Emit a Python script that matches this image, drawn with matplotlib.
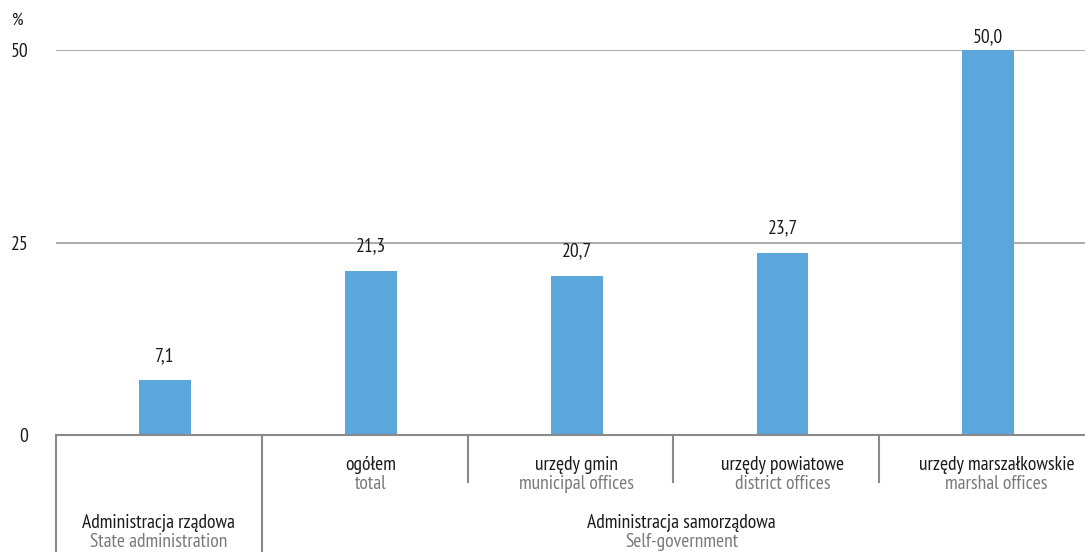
import matplotlib
matplotlib.use("Agg")
import matplotlib.pyplot as plt
from matplotlib import font_manager
import matplotlib.transforms as mtransforms

# Data
categories_pl = ["", "ogółem", "urzędy gmin", "urzędy powiatowe", "urzędy marszałkowskie"]
categories_en = ["", "total", "municipal offices", "district offices", "marshal offices"]
values = [7.1, 21.3, 20.7, 23.7, 50.0]
value_labels = ["7,1", "21,3", "20,7", "23,7", "50,0"]
group_pl = ["Administracja rządowa", "Administracja samorządowa"]
group_en = ["State administration", "Self-government"]
yticks = [0, 25, 50]

# Prefer a humanist condensed face
available = {f.name for f in font_manager.fontManager.ttflist}
preferred = ["PT Sans Narrow", "Fira Sans Condensed", "Roboto Condensed", "Asap Condensed",
             "Archivo Narrow", "Liberation Sans Narrow", "DejaVu Sans"]
families = [f for f in preferred if f in available]
plt.rcParams["font.family"] = families
FS = 14

W, H = 1085, 552
fig = plt.figure(figsize=(W / 100, H / 100), dpi=100)
ax = fig.add_axes([56 / W, (H - 435) / H, (W - 56) / W, (435 - 50) / H])

bar_color = "#5BA7DB"
text_dark = "#1a1a1a"
text_grey = "#7a7a7a"
x = [i + 0.53 for i in range(len(values))]
ax.bar(x, values, width=0.252, color=bar_color, zorder=3)
for xi, v, lab in zip(x, values, value_labels):
    # the top label sits closer to its bar so it stays inside the figure
    off = 17.5 if v < 45 else 9.5
    ax.annotate(lab, (xi, v), xytext=(0, off), textcoords="offset points",
                ha="center", va="center", fontsize=FS, color=text_dark)

ax.set_xlim(0, 5)
ax.set_ylim(0, 50)
ax.set_yticks(yticks)
ax.set_yticklabels([str(t) for t in yticks], fontsize=FS, color=text_dark)
ax.tick_params(axis="y", length=0, pad=20)
ax.set_xticks([])
ax.yaxis.grid(True, color="#ABABAB", linewidth=1.4)
ax.set_axisbelow(True)
for s in ["top", "right", "left"]:
    ax.spines[s].set_visible(False)
ax.spines["bottom"].set_color("#8A8A8A")
ax.spines["bottom"].set_linewidth(1.5)
ax.spines["bottom"].set_zorder(4)

# "%" unit label above the y axis
fig.text(18 / W, 1 - 21 / H, "%", ha="center", va="center", fontsize=FS - 1, color=text_dark)

# Category labels under the axis (the last cell runs past the right edge)
trans = mtransforms.blended_transform_factory(ax.transData, fig.transFigure)
label_x = [0.53, 1.53, 2.53, 3.53, 4.57]
for xi, pl, en in zip(label_x, categories_pl, categories_en):
    if pl:
        ax.text(xi, 1 - 465 / H, pl, transform=trans, ha="center", va="center",
                fontsize=FS, color=text_dark)
        ax.text(xi, 1 - 484 / H, en, transform=trans, ha="center", va="center",
                fontsize=FS, color=text_grey)

# Group labels
group_centers = [0.5, 3.04]
for gc, pl, en in zip(group_centers, group_pl, group_en):
    ax.text(gc, 1 - 523 / H, pl, transform=trans, ha="center", va="center",
            fontsize=FS, color=text_dark)
    ax.text(gc, 1 - 542 / H, en, transform=trans, ha="center", va="center",
            fontsize=FS, color=text_grey)

# Separators between categories
sep_col = "#8A8A8A"
for xs, ybot in [(0, 0.0), (1, 0.0), (2, 1 - 482 / H), (3, 1 - 482 / H), (4, 1 - 482 / H)]:
    ax.plot([xs, xs], [1 - 435 / H, ybot], transform=trans, color=sep_col,
            linewidth=1.5, clip_on=False, zorder=4)

fig.savefig("out.png", dpi=100)
